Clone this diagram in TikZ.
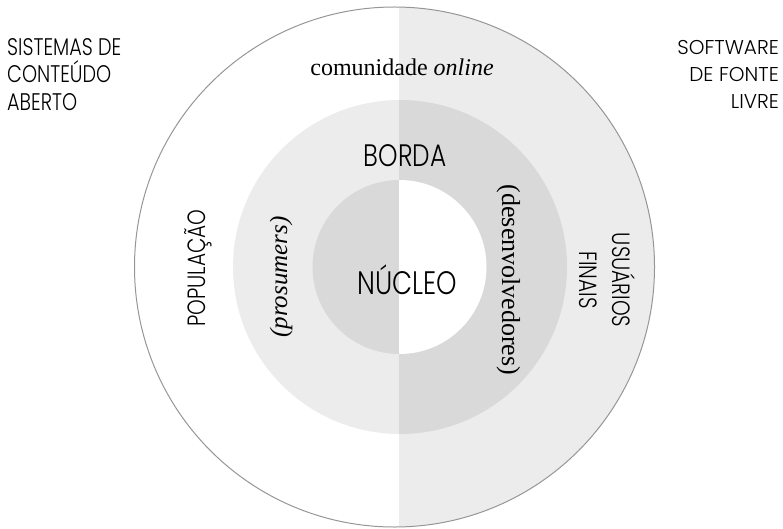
\documentclass[tikz,border=0pt]{standalone}
\usepackage{fontspec}
\setmainfont{Liberation Serif}
\newfontfamily\narrowsans{Poppins}[UprightFont=* Light, FakeStretch=0.8]
\newfontfamily\plainsans{Poppins}[UprightFont=* Light]
\definecolor{litegray}{RGB}{236,236,236}
\definecolor{midgray}{RGB}{217,217,217}
\definecolor{rimgray}{RGB}{150,150,150}

\begin{document}
\begin{tikzpicture}[x=1pt, y=-1pt,
  wingleft/.style={inner sep=0pt, align=left, font=\narrowsans\fontsize{24}{27.5}\selectfont},
  wingright/.style={inner sep=0pt, align=right, font=\plainsans\fontsize{20}{27}\selectfont},
  zone/.style={inner sep=0pt, font=\narrowsans\fontsize{31}{36}\selectfont},
  side/.style={inner sep=0pt, align=center, font=\narrowsans\fontsize{25}{33}\selectfont},
  gloss/.style={inner sep=0pt, font=\fontsize{25}{30}\selectfont}
]
\useasboundingbox (0,0) rectangle (783,529);
\begin{scope}
  \clip (394.5,267) circle[radius=260pt];
  \fill[litegray] (399,0) rectangle (783,529);
\end{scope}
\begin{scope}
  \clip (400,267) circle[radius=167pt];
  \fill[litegray] (0,0) rectangle (399,529);
  \fill[midgray] (399,0) rectangle (783,529);
\end{scope}
\begin{scope}
  \clip (399.5,267) circle[radius=87pt];
  \fill[midgray] (0,0) rectangle (399,529);
  \fill[white] (399,0) rectangle (783,529);
\end{scope}
\draw[rimgray, line width=1pt] (394.5,267) circle[radius=260pt];

\node[wingleft, anchor=north west] (sistemas) at (7,38) {SISTEMAS DE\\CONTEÚDO\\ABERTO};
\node[wingright, anchor=north east] (software) at (779,40) {SOFTWARE\\DE FONTE\\LIVRE};
\node[gloss, font=\fontsize{24}{28}\selectfont, anchor=base] (comunidade) at (402,76) {comunidade \textit{online}};
\node[zone, anchor=base] (borda) at (405,166.7) {BORDA};
\node[zone, font=\narrowsans\fontsize{32.5}{36}\selectfont, anchor=base] (nucleo) at (407,294) {NÚCLEO};
\node[side, anchor=base, rotate=90] (populacao) at (205,268) {POPULAÇÃO};
\node[gloss, anchor=base, rotate=90] (prosumers) at (287,277) {\textit{(prosumers)}};
\node[gloss, font=\fontsize{26}{30}\selectfont, anchor=base, rotate=-90] (desenv) at (502,280) {(desenvolvedores)};
\node[side, rotate=-90] (usuarios) at (607.7,280) {USUÁRIOS\\FINAIS};
\end{tikzpicture}
\end{document}
